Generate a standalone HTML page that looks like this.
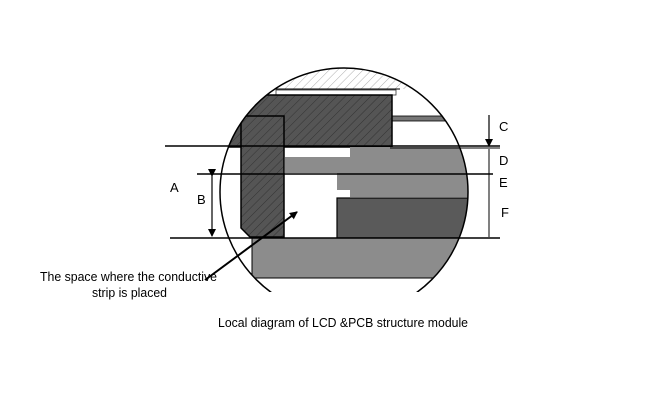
<!DOCTYPE html>
<html><head><meta charset="utf-8"><style>body{margin:0;background:#fff}svg{display:block}</style></head>
<body>
<svg width="668" height="400" viewBox="0 0 668 400" xmlns="http://www.w3.org/2000/svg" font-family="Liberation Sans, sans-serif">
<defs>
<clipPath id="c"><circle cx="344" cy="192" r="124"/></clipPath>
<pattern id="h" width="6" height="6" patternUnits="userSpaceOnUse" patternTransform="rotate(45)">
<rect width="6" height="6" fill="#555"/><line x1="0" y1="0" x2="0" y2="6" stroke="#333" stroke-width="1"/></pattern>
<pattern id="hl" width="6" height="6" patternUnits="userSpaceOnUse" patternTransform="rotate(45)">
<rect width="6" height="6" fill="#fff"/><line x1="0" y1="0" x2="0" y2="6" stroke="#999" stroke-width="0.8"/></pattern>
<marker id="ar" markerWidth="8" markerHeight="8" refX="7" refY="4" orient="auto" markerUnits="userSpaceOnUse"><path d="M0,0 L8,4 L0,8z" fill="#000"/></marker>
</defs>
<g clip-path="url(#c)">
<rect x="200" y="60" width="300" height="29" fill="url(#hl)"/>
<line x1="200" y1="89" x2="400" y2="89" stroke="#000" stroke-width="1"/>
<rect x="276" y="90" width="120" height="5" fill="#fff" stroke="#333" stroke-width="0.8"/>
<rect x="392" y="116" width="80" height="5" fill="#777" stroke="#000" stroke-width="0.8"/>
<rect x="200" y="95" width="192" height="52" fill="url(#h)" stroke="#000" stroke-width="1.5"/>
<path d="M241,116 H284 V237 H250 L241,228 Z" fill="url(#h)" stroke="#000" stroke-width="1.5"/>
<path d="M285,157 H350 V147 H470 V173 H285 Z" fill="#8c8c8c"/>
<path d="M337,173 H470 V197 H350 V190 H337 Z" fill="#8c8c8c"/>
<rect x="337" y="198" width="133" height="40" fill="#5a5a5a" stroke="#000" stroke-width="1.2"/>
<rect x="252" y="238" width="220" height="40" fill="#8c8c8c" stroke="#000" stroke-width="1"/>
</g>
<circle cx="344" cy="192" r="124" fill="none" stroke="#000" stroke-width="1.5" clip-path="url(#b)"/>
<clipPath id="b"><rect x="0" y="0" width="668" height="292"/></clipPath>
<rect x="210" y="292" width="270" height="10" fill="#fff"/>
<g stroke="#000" stroke-width="1.5">
<line x1="165" y1="146" x2="500" y2="146"/>
<line x1="390" y1="148" x2="500" y2="148" stroke-width="1"/>
<line x1="197" y1="174" x2="493" y2="174"/>
<line x1="170" y1="238" x2="500" y2="238"/>
<line x1="212" y1="176" x2="212" y2="236" marker-start="url(#ar)" marker-end="url(#ar)" stroke-width="1.2"/>
<line x1="489" y1="115" x2="489" y2="146" marker-end="url(#ar)" stroke-width="1.2"/>
<line x1="489" y1="149" x2="489" y2="237" stroke-width="1"/>
<line x1="205" y1="280" x2="297" y2="212" marker-end="url(#ar)" stroke-width="2"/>
</g>
<g font-size="13" fill="#000">
<text x="170" y="192">A</text>
<text x="197" y="204">B</text>
<text x="499" y="131">C</text>
<text x="499" y="165">D</text>
<text x="499" y="187">E</text>
<text x="501" y="217">F</text>
<text x="40" y="281" textLength="177" lengthAdjust="spacingAndGlyphs">The space where the conductive</text>
<text x="92" y="297" textLength="75" lengthAdjust="spacingAndGlyphs">strip is placed</text>
<text x="218" y="327" textLength="250" lengthAdjust="spacingAndGlyphs">Local diagram of LCD &amp;PCB structure module</text>
</g>
</svg>
</body></html>
